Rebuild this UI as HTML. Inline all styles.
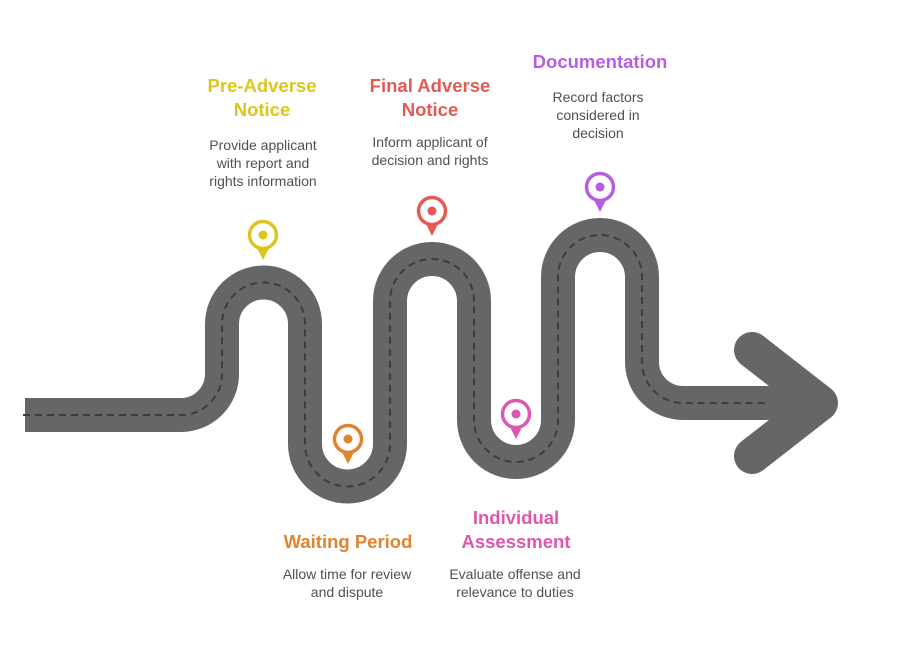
<!DOCTYPE html>
<html><head><meta charset="utf-8"><style>
html,body{margin:0;padding:0;background:#fff;}
svg{display:block;}
.h{font-family:"Liberation Sans",sans-serif;font-weight:bold;font-size:18.5px;text-anchor:middle;}
.d{font-family:"Liberation Sans",sans-serif;font-size:14px;fill:#505050;text-anchor:middle;}
</style></head><body>
<svg width="900" height="649" viewBox="0 0 900 649" xmlns="http://www.w3.org/2000/svg">
<rect width="900" height="649" fill="#fff"/>
<g fill="none" stroke="#666" stroke-width="34">
<path d="M25 415 H181 A41 41 0 0 0 222 374 V324 A41.5 41.5 0 0 1 305 324 V444 A42.5 42.5 0 0 0 390 444 V301 A42 42 0 0 1 474 301 V420 A42 42 0 0 0 558 420 V277 A42 42 0 0 1 642 277 V362 A41 41 0 0 0 683 403 H800"/>
</g>
<path d="M752 350 L820 403 L752 456" fill="none" stroke="#666" stroke-width="36" stroke-linecap="round" stroke-linejoin="round"/>
<path d="M23 415 H181 A41 41 0 0 0 222 374 V324 A41.5 41.5 0 0 1 305 324 V444 A42.5 42.5 0 0 0 390 444 V301 A42 42 0 0 1 474 301 V420 A42 42 0 0 0 558 420 V277 A42 42 0 0 1 642 277 V362 A41 41 0 0 0 683 403 H765" fill="none" stroke="#3d3d3d" stroke-width="2" stroke-dasharray="7 5"/>
<g stroke-width="3.5">
<g transform="translate(263,235)"><path d="M-7 11 L0 25 L7 11Z" fill="#DDC51B"/><circle r="13.5" fill="#fff" stroke="#DDC51B"/><circle r="4.5" fill="#DDC51B"/></g>
<g transform="translate(432,211)"><path d="M-7 11 L0 25 L7 11Z" fill="#E35A52"/><circle r="13.5" fill="#fff" stroke="#E35A52"/><circle r="4.5" fill="#E35A52"/></g>
<g transform="translate(348,439)"><path d="M-7 11 L0 25 L7 11Z" fill="#E0832F"/><circle r="13.5" fill="#fff" stroke="#E0832F"/><circle r="4.5" fill="#E0832F"/></g>
<g transform="translate(516,414)"><path d="M-7 11 L0 25 L7 11Z" fill="#DC58AE"/><circle r="13.5" fill="#fff" stroke="#DC58AE"/><circle r="4.5" fill="#DC58AE"/></g>
<g transform="translate(600,187)"><path d="M-7 11 L0 25 L7 11Z" fill="#B65EE2"/><circle r="13.5" fill="#fff" stroke="#B65EE2"/><circle r="4.5" fill="#B65EE2"/></g>
</g>
<text class="h" fill="#DDC51B" x="262" y="92">Pre-Adverse</text>
<text class="h" fill="#DDC51B" x="262" y="116">Notice</text>
<text class="d" x="263" y="150">Provide applicant</text>
<text class="d" x="263" y="168">with report and</text>
<text class="d" x="263" y="186">rights information</text>
<text class="h" fill="#E35A52" x="430" y="92">Final Adverse</text>
<text class="h" fill="#E35A52" x="430" y="116">Notice</text>
<text class="d" x="430" y="147">Inform applicant of</text>
<text class="d" x="430" y="165">decision and rights</text>
<text class="h" fill="#B65EE2" x="600" y="68">Documentation</text>
<text class="d" x="598" y="102">Record factors</text>
<text class="d" x="598" y="120">considered in</text>
<text class="d" x="598" y="138">decision</text>
<text class="h" fill="#E0832F" x="348" y="548">Waiting Period</text>
<text class="d" x="347" y="579">Allow time for review</text>
<text class="d" x="347" y="597">and dispute</text>
<text class="h" fill="#DC58AE" x="516" y="524">Individual</text>
<text class="h" fill="#DC58AE" x="516" y="548">Assessment</text>
<text class="d" x="515" y="579">Evaluate offense and</text>
<text class="d" x="515" y="597">relevance to duties</text>
</svg>
</body></html>
